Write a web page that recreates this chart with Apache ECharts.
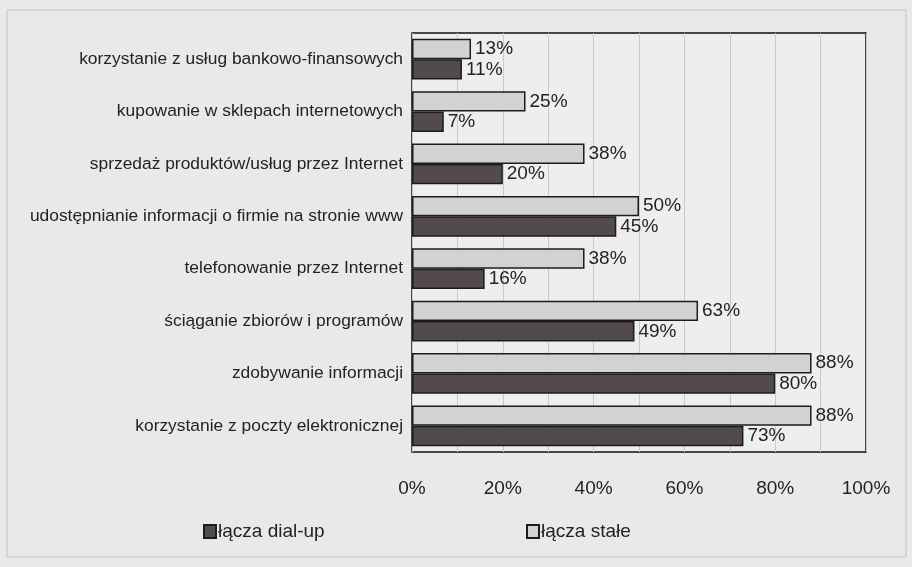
<!DOCTYPE html>
<html>
<head>
<meta charset="utf-8">
<script src="https://cdn.jsdelivr.net/npm/echarts@6/dist/echarts.min.js"></script>
<style>
  html, body { margin: 0; padding: 0; background: #eae9e9; }
  #chart { width: 912px; height: 567px; }
</style>
</head>
<body>
<div id="chart"></div>
<script>
// Internet usage by companies, by type of connection (%)
const categories = [
  'korzystanie z usług bankowo-finansowych',
  'kupowanie w sklepach internetowych',
  'sprzedaż produktów/usług przez Internet',
  'udostępnianie informacji o firmie na stronie www',
  'telefonowanie przez Internet',
  'ściąganie zbiorów i programów',
  'zdobywanie informacji',
  'korzystanie z poczty elektronicznej'
];
const staleValues = [13, 25, 38, 50, 38, 63, 88, 88];
const dialupValues = [11, 7, 20, 45, 16, 49, 80, 73];
const xTicks = [0, 20, 40, 60, 80, 100];

const FONT = '"Liberation Sans", Arial, sans-serif';
const TEXT = '#232323';

const chart = echarts.init(document.getElementById('chart'), null, { renderer: 'canvas' });

const labelStyle = {
  show: true,
  position: 'right',
  distance: 4,
  formatter: '{c}%',
  fontFamily: FONT,
  fontSize: 19,
  color: TEXT
};

const legendText = { fontFamily: FONT, fontSize: 19, color: TEXT, padding: [0, 0, 0, -3] };

chart.setOption({
  backgroundColor: '#eae9e9',
  animation: false,
  graphic: [{
    type: 'rect',
    shape: { x: 7, y: 10, width: 899, height: 547 },
    style: { fill: 'none', stroke: '#c4c4c4', lineWidth: 1 },
    silent: true,
    z: -1
  }],
  grid: {
    left: 412, top: 33, right: 46, bottom: 115,
    show: true,
    backgroundColor: '#eeeeee',
    borderColor: '#111111',
    borderWidth: 1.5
  },
  legend: [
    {
      data: ['łącza dial-up'],
      icon: 'rect',
      left: 198, top: 517,
      itemWidth: 12, itemHeight: 13, itemGap: 4,
      textStyle: legendText,
      selectedMode: false
    },
    {
      data: ['łącza stałe'],
      icon: 'rect',
      left: 521, top: 517,
      itemWidth: 12, itemHeight: 13, itemGap: 4,
      textStyle: legendText,
      selectedMode: false
    }
  ],
  xAxis: {
    type: 'value',
    min: 0, max: 100, interval: 10,
    axisLine: { show: false },
    axisTick: { show: false },
    splitLine: { show: true, lineStyle: { color: '#c9c9c9', width: 1 } },
    axisLabel: {
      margin: 27,
      fontFamily: FONT, fontSize: 19, color: TEXT,
      formatter: v => xTicks.includes(v) ? v + '%' : ''
    }
  },
  yAxis: {
    type: 'category',
    data: categories,
    inverse: true,
    axisLine: { show: false },
    axisTick: { show: false },
    splitLine: { show: false },
    axisLabel: { margin: 9, fontFamily: FONT, fontSize: 17.4, color: TEXT }
  },
  series: [
    {
      name: 'łącza stałe',
      type: 'bar',
      data: staleValues,
      barGap: '0%',
      barCategoryGap: '22%',
      itemStyle: { color: '#d3d2d2', borderColor: '#1c1c1c', borderWidth: 1.5 },
      label: labelStyle
    },
    {
      name: 'łącza dial-up',
      type: 'bar',
      data: dialupValues,
      barGap: '0%',
      barCategoryGap: '22%',
      itemStyle: { color: '#524a4e', borderColor: '#1c1c1c', borderWidth: 1.5 },
      label: labelStyle
    }
  ]
});
</script>
</body>
</html>
